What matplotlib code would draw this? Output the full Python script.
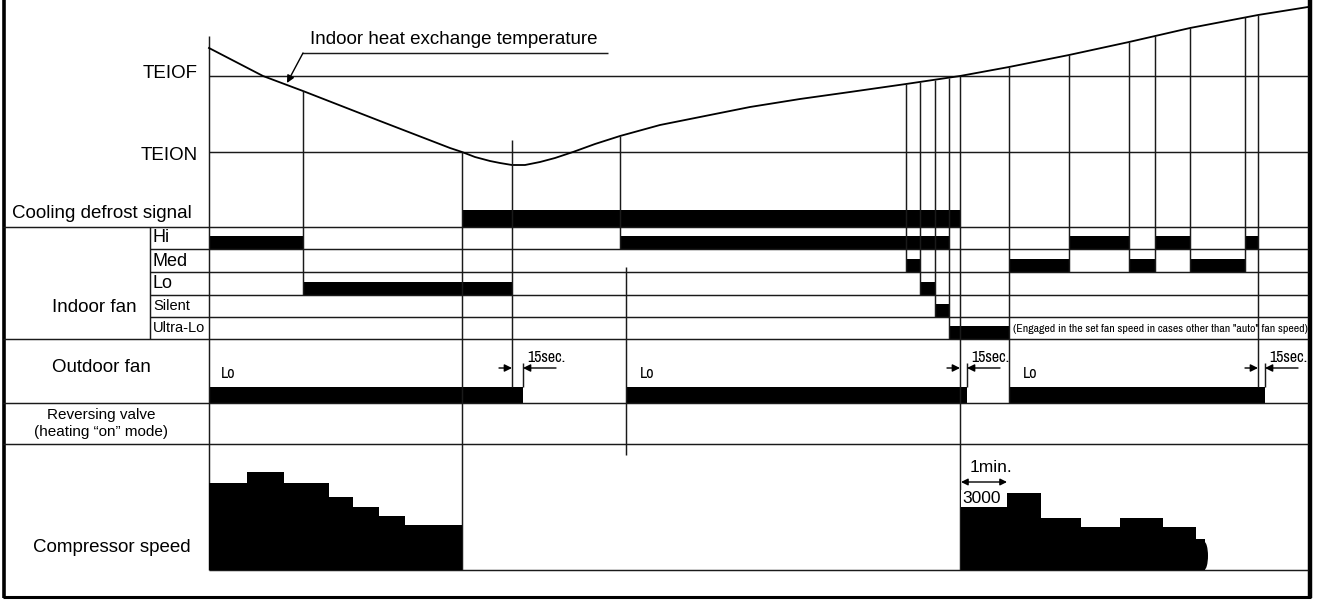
import numpy as np
import matplotlib
matplotlib.use("Agg")
import matplotlib.pyplot as plt
from matplotlib import font_manager as fm
from matplotlib.patches import Ellipse

plt.rcParams['font.family'] = ['Liberation Sans', 'DejaVu Sans']

# time axis runs 209 .. 1308 (chart units), y values of the temperature trace in chart units
temp_x = [209, 263, 303, 380, 450, 462, 475, 490, 500, 512, 525, 540, 555, 573, 595, 620,
          660, 700, 750, 800, 850, 906, 960, 1009, 1069, 1129, 1190, 1258, 1308]
temp_y = [48, 76, 91, 121, 148, 152, 157, 161, 163, 165, 165, 162, 158, 152, 144, 136,
          125, 117, 107, 99, 92, 84, 76, 67, 55, 42, 28, 15, 7]

defrost_start = [462]
defrost_end = [960]

fan_speed = ["Hi", "Lo", "Hi", "Med", "Lo", "Silent", "Ultra-Lo",
             "Med", "Hi", "Med", "Hi", "Med", "Hi"]
fan_start = [209, 303, 620, 906, 920, 935, 949, 1009, 1069, 1129, 1155, 1190, 1245]
fan_end = [303, 513, 949, 920, 935, 949, 1009, 1069, 1129, 1155, 1190, 1245, 1258]

outdoor_start = [209, 626, 1009]
outdoor_end = [523, 967, 1265]

# compressor speed (rpm) as steps
comp1_edges = [209, 247, 284, 329, 353, 379, 405, 462]
comp1_rpm = [4150, 4650, 4150, 3500, 3000, 2550, 2150]
comp2_edges = [961, 1007, 1041, 1081, 1120, 1163, 1196, 1205]
comp2_rpm = [3000, 3650, 2500, 2050, 2500, 2050, 1500]

# event markers: x, top (None = on the trace), bottom
event_x = [303, 462, 512, 620, 626, 906, 920, 935, 949, 960, 1009, 1069, 1129, 1155, 1190, 1245, 1258]
event_top = [None, None, 140, None, 267, None, None, None, None, None, None, None, None, None, None, None, None]
event_bot = [295, 570, 387, 249, 455, 272, 295, 317, 339, 570, 403, 272, 272, 272, 272, 272, 387]

# 15 sec. delays of the outdoor fan
delay_from = [512, 960, 1258]
delay_to = [523, 967, 1265]

# layout
W, H = 1322, 601
X0, X1 = 209, 1308
TEIOF_Y, TEION_Y = 76, 152
rows = {"Hi": 249, "Med": 272, "Lo": 295, "Silent": 317, "Ultra-Lo": 339}
LC = '#1a1a1a'
LW = 1.05


def narrow():
    for fam in ["Liberation Sans Narrow", "Arial Narrow", "Archivo Narrow", "Roboto Condensed"]:
        try:
            fm.findfont(fm.FontProperties(family=fam), fallback_to_default=False)
            return dict(family=fam)
        except ValueError:
            continue
    return dict(family="Liberation Sans")


NF = narrow()

fig = plt.figure(figsize=(W / 100, H / 100), dpi=100)
ax = fig.add_axes([0, 0, 1, 1])
ax.set_xlim(0, W)
ax.set_ylim(H, 0)
ax.axis('off')

# frame
ax.vlines(4, 0, 598, color='black', lw=2.6)
ax.vlines(1309.5, 0, 598, color='black', lw=3.2)
ax.hlines(597, 3, 1311, color='black', lw=2.2)

# grid
ax.hlines([TEIOF_Y, TEION_Y], X0, X1, color=LC, lw=LW)
ax.hlines([227, 339, 403, 444], 3, X1, color=LC, lw=LW)
ax.hlines([rows["Hi"], rows["Med"], rows["Lo"], rows["Silent"]], 150, X1, color=LC, lw=LW)
ax.hlines(570, X0, X1, color=LC, lw=LW)
ax.vlines(150, 227, 339, color=LC, lw=LW)
ax.vlines(X0, 36, 570, color=LC, lw=LW)

# temperature trace
ax.plot(temp_x, temp_y, color='black', lw=1.3)

for x, t, b in zip(event_x, event_top, event_bot):
    top = np.interp(x, temp_x, temp_y) if t is None else t
    ax.vlines(x, top, b, color=LC, lw=LW)

# defrost signal
for s, e in zip(defrost_start, defrost_end):
    ax.fill_between([s, e], 210, 227, color='black', lw=0)

# indoor fan
for sp, s, e in zip(fan_speed, fan_start, fan_end):
    ax.fill_between([s, e], rows[sp] - 13, rows[sp], color='black', lw=0)

# outdoor fan
for s, e in zip(outdoor_start, outdoor_end):
    ax.fill_between([s, e], 387, 403, color='black', lw=0)

arr = dict(arrowstyle='-|>', color='black', lw=1.0, mutation_scale=11, shrinkA=0, shrinkB=0)
for a, b in zip(delay_from, delay_to):
    ax.vlines(b, 363, 387, color=LC, lw=LW)
    ax.annotate('', xy=(a, 368), xytext=(a - 13, 368), arrowprops=arr)
    ax.annotate('', xy=(b, 368), xytext=(b + 33, 368), arrowprops=arr)
    ax.text(b + 4, 358, '15sec.', fontsize=11.5, va='center', ha='left', **NF)

for x in outdoor_start:
    ax.text(x + 12 if x == 209 else x + 14, 373, 'Lo', fontsize=11.5, va='center', ha='left', **NF)

# labels
ax.text(310, 40, 'Indoor heat exchange temperature', fontsize=13.5, va='center')
ax.hlines(53, 302, 608, color=LC, lw=LW)
ax.annotate('', xy=(287, 83), xytext=(303, 53),
            arrowprops=dict(arrowstyle='-|>', color='black', lw=1.0, mutation_scale=11,
                            shrinkA=0, shrinkB=0))
ax.text(198, 73, 'TEIOF', fontsize=13.5, va='center', ha='right')
ax.text(198, 155, 'TEION', fontsize=13.5, va='center', ha='right')
ax.text(12, 214, 'Cooling defrost signal', fontsize=13.5, va='center')
ax.text(94, 307, 'Indoor fan', fontsize=13.5, va='center', ha='center')
for name, bot in rows.items():
    small = name in ("Silent", "Ultra-Lo")
    ax.text(153, bot - 11, name, fontsize=10.5 if small else 13, va='center', ha='left')

# note in the ultra-lo row, sized to the free space
note = ax.text(1013, 329, '(Engaged in the set fan speed in cases other than "auto" fan speed)',
               fontsize=10, va='center', ha='left', **NF)
fig.canvas.draw()
w = note.get_window_extent().width
if w > 293:
    note.set_fontsize(10 * 293 / w)

ax.text(101, 367, 'Outdoor fan', fontsize=13.5, va='center', ha='center')
ax.text(101, 415, 'Reversing valve', fontsize=11, va='center', ha='center')
ax.text(101, 432, '(heating \u201con\u201d mode)', fontsize=11, va='center', ha='center')
ax.text(33, 548, 'Compressor speed', fontsize=13.5, va='center', ha='left')

# 1 min. marker
ax.annotate('', xy=(961, 482), xytext=(1007, 482),
            arrowprops=dict(arrowstyle='<|-|>', color='black', lw=1.0, mutation_scale=10,
                            shrinkA=0, shrinkB=0))
ax.text(970, 468, '1min.', fontsize=12.5, va='center', ha='left')

# compressor speed panel
cax = fig.add_axes([0, (H - 570) / H, 1, 126 / H])
cax.set_xlim(0, W)
cax.set_ylim(0, 6000)
cax.axis('off')
cax.patch.set_alpha(0)
cax.stairs(comp1_rpm, comp1_edges, baseline=0, fill=True, color='black')
cax.stairs(comp2_rpm, comp2_edges, baseline=0, fill=True, color='black')
cax.add_patch(Ellipse((comp2_edges[-1] - 1, comp2_rpm[-1] * 0.45), 8, comp2_rpm[-1] * 0.9,
                      color='black', lw=0))
cax.text(962, comp2_rpm[0] + 40, '3000', fontsize=12.5, va='bottom', ha='left',
         bbox=dict(facecolor='white', edgecolor='none', pad=0.6))

fig.savefig('out.png', dpi=100)
